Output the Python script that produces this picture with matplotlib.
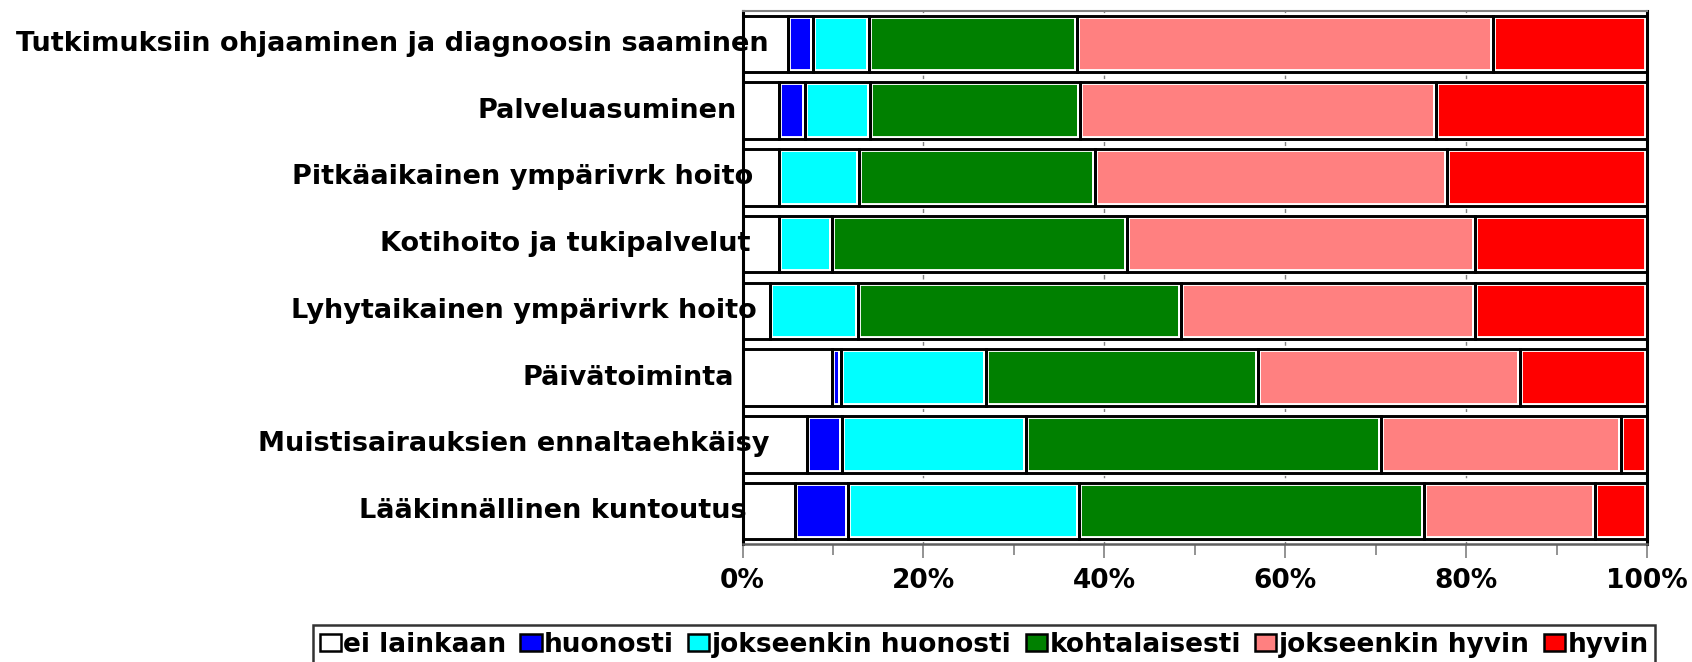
import matplotlib
matplotlib.use("Agg")
import matplotlib.pyplot as plt
from matplotlib.patches import Rectangle
from matplotlib.ticker import PercentFormatter, MultipleLocator
from matplotlib.transforms import blended_transform_factory

plt.rcParams['font.family'] = ['DejaVu Sans']
plt.rcParams['font.weight'] = 'bold'

# categories, top to bottom
categories = [
    "Tutkimuksiin ohjaaminen ja diagnoosin saaminen",
    "Palveluasuminen",
    "Pitkäaikainen ympärivrk hoito",
    "Kotihoito ja tukipalvelut",
    "Lyhytaikainen ympärivrk hoito",
    "Päivätoiminta",
    "Muistisairauksien ennaltaehkäisy",
    "Lääkinnällinen kuntoutus",
]

series_names = ["ei lainkaan", "huonosti", "jokseenkin huonosti",
                "kohtalaisesti", "jokseenkin hyvin", "hyvin"]

# shares in percent
ei_lainkaan = [5.0, 4.0, 4.0, 4.0, 3.0, 9.9, 7.1, 5.8]
huonosti = [2.8, 2.9, 0.0, 0.0, 0.0, 1.0, 3.9, 5.9]
jokseenkin_huonosti = [6.2, 7.2, 8.9, 5.9, 9.8, 16.0, 20.3, 25.5]
kohtalaisesti = [23.0, 23.2, 26.1, 32.6, 35.7, 30.1, 39.3, 38.2]
jokseenkin_hyvin = [46.0, 39.4, 38.9, 38.5, 32.5, 29.0, 26.5, 18.8]
hyvin = [17.0, 23.3, 22.1, 19.0, 19.0, 14.0, 2.9, 5.8]

series = [ei_lainkaan, huonosti, jokseenkin_huonosti,
          kohtalaisesti, jokseenkin_hyvin, hyvin]
colors = ["#FFFFFF", "#0000FF", "#00FFFF", "#008000", "#FF8080", "#FF0000"]

# where each category label ends (pixels from the left of the figure)
label_right_px = [769, 737, 753, 750, 757, 734, 769, 747]

W, H = 1692, 662
fig = plt.figure(figsize=(W / 100, H / 100), dpi=100)
ax = fig.add_axes([742.5 / W, 1 - 544.3 / H, (1647 - 742.5) / W, (544.3 - 10.7) / H])

ypos = list(range(len(categories) - 1, -1, -1))
left = [0.0] * len(categories)
for vals, col in zip(series, colors):
    # fill with a thin white rim, then black outline on top
    ax.barh(ypos, vals, left=left, height=0.85, color=col,
            edgecolor="white", linewidth=4.2, zorder=2)
    ax.barh(ypos, vals, left=left, height=0.85, facecolor="none",
            edgecolor="black", linewidth=2.1, zorder=3)
    left = [a + b for a, b in zip(left, vals)]

ax.set_xlim(0, 100)
ax.set_ylim(-0.5, len(categories) - 0.5)

ax.xaxis.set_major_locator(MultipleLocator(20))
ax.xaxis.set_minor_locator(MultipleLocator(10))
ax.xaxis.set_major_formatter(PercentFormatter(decimals=0))
ax.tick_params(axis='x', which='major', length=10, width=1.2, color='#808080',
               labelsize=19, pad=7)
ax.tick_params(axis='x', which='minor', length=8, width=1.2, color='#808080')
ax.set_yticks([])

ax.grid(axis='x', which='major', color='#808080', linestyle='--', linewidth=1, zorder=0)
ax.set_axisbelow(True)

ax.spines['left'].set_color('black')
ax.spines['left'].set_linewidth(2.2)
ax.spines['right'].set_color('black')
ax.spines['right'].set_linewidth(2.2)
ax.spines['top'].set_color('#808080')
ax.spines['top'].set_linewidth(1.5)
ax.spines['bottom'].set_color('#606060')
ax.spines['bottom'].set_linewidth(1.8)

trans = blended_transform_factory(fig.transFigure, ax.transData)
for y, name, xr in zip(ypos, categories, label_right_px):
    ax.text(xr / W, y, name, transform=trans, ha='right', va='center',
            fontsize=19.5, fontweight='bold', zorder=5, clip_on=False)

handles = [Rectangle((0, 0), 1, 1, facecolor=c, edgecolor='black', linewidth=1.8)
           for c in colors]
leg = fig.legend(handles, series_names, ncol=6, loc='upper left',
                 bbox_to_anchor=(313 / W, 1 - 625 / H), bbox_transform=fig.transFigure,
                 prop={'size': 19, 'weight': 'bold'}, frameon=True, fancybox=False,
                 handlelength=0.8, handleheight=0.6, handletextpad=0.1,
                 columnspacing=0.53, borderpad=0.25, borderaxespad=0)
leg.get_frame().set_edgecolor('black')
leg.get_frame().set_linewidth(1.8)

fig.savefig("out.png", dpi=100)
